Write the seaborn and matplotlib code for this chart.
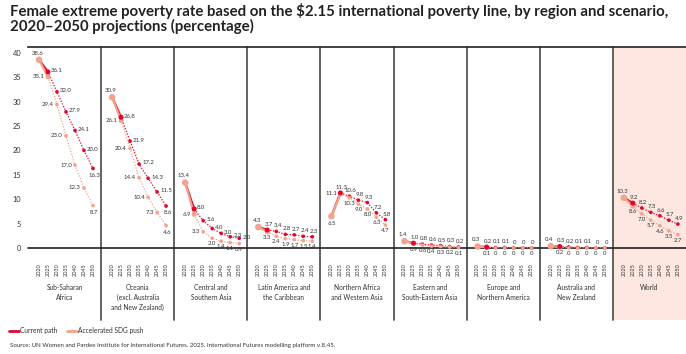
import numpy as np
import pandas as pd
import matplotlib
matplotlib.use("Agg")
import matplotlib.pyplot as plt
from matplotlib.lines import Line2D
from matplotlib.patches import Rectangle
import seaborn as sns

years = [2020, 2025, 2030, 2035, 2040, 2045, 2050]
regions = ["Sub-Saharan\nAfrica", "Oceania\n(excl. Australia\nand New Zealand)", "Central and\nSouthern Asia",
           "Latin America and\nthe Caribbean", "Northern Africa\nand Western Asia", "Eastern and\nSouth-Eastern Asia",
           "Europe and\nNorthern America", "Australia and\nNew Zealand", "World"]
current_path = [
    [38.6, 36.1, 32.0, 27.9, 24.1, 20.0, 16.3],
    [30.9, 26.8, 21.9, 17.2, 14.3, 11.5, 8.6],
    [13.4, 8.0, 5.6, 4.0, 3.0, 2.3, 2.0],
    [4.3, 3.7, 3.4, 2.8, 2.7, 2.4, 2.3],
    [6.5, 11.3, 10.6, 9.8, 9.3, 7.2, 5.8],
    [1.4, 1.0, 0.8, 0.6, 0.5, 0.3, 0.2],
    [0.3, 0.2, 0.1, 0.1, 0, 0, 0],
    [0.4, 0.3, 0.2, 0.1, 0.1, 0, 0],
    [10.3, 9.2, 8.2, 7.3, 6.6, 5.7, 4.9],
]
accelerated = [
    [38.6, 35.1, 29.4, 23.0, 17.0, 12.3, 8.7],
    [30.9, 26.1, 20.4, 14.4, 10.4, 7.3, 4.6],
    [13.4, 6.9, 3.3, 2.0, 1.4, 1.1, 0.9],
    [4.3, 3.3, 2.4, 1.9, 1.7, 1.5, 1.4],
    [6.5, 11.1, 10.3, 9.0, 8.0, 6.3, 4.7],
    [1.4, 0.9, 0.6, 0.4, 0.3, 0.2, 0.1],
    [0.3, 0.1, 0, 0, 0, 0, 0],
    [0.4, 0.2, 0, 0, 0, 0, 0],
    [10.3, 8.6, 7.0, 5.7, 4.6, 3.5, 2.7],
]
scenarios = ["Current path", "Accelerated SDG push"]
yticks = [0, 5, 10, 15, 20, 25, 30, 35, 40]

RED = "#e2062c"
SALMON = "#f4a28c"
PINK = "#fde7e0"
TXT = "#333333"
GW = 8  # group width in x units

rows = []
for g, reg in enumerate(regions):
    for sc, series in zip(scenarios, [current_path, accelerated]):
        for i, (yr, v) in enumerate(zip(years, series[g])):
            rows.append(dict(region=reg, g=g, scenario=sc, idx=i, year=yr,
                             x=g * GW + 1.2 + i * 0.985, value=v))
df = pd.DataFrame(rows)

sns.set_style("white")
plt.rcParams["font.family"] = ["Lato", "DejaVu Sans"]

fig = plt.figure(figsize=(6.86, 3.54), dpi=100)
ax = fig.add_axes([28 / 686, (354 - 248) / 354, 658 / 686, 201 / 354])
ax.set_xlim(0, GW * len(regions))
ax.set_ylim(0, 41.2)
pal = {"Current path": RED, "Accelerated SDG push": SALMON}

bot = -0.358
# World pink panel
ax.add_patch(Rectangle((GW * 8, bot), GW, 1 - bot, transform=ax.get_xaxis_transform(),
                       facecolor=PINK, edgecolor="none", zorder=0, clip_on=False))
for g in range(1, len(regions)):
    ax.plot([g * GW, g * GW], [bot, 1], transform=ax.get_xaxis_transform(), clip_on=False,
            color="#555555", lw=1.3, zorder=1)

first = df[df.idx <= 1]
after = df[df.idx >= 1]
sns.lineplot(data=after, x="x", y="value", hue="scenario", units="region", estimator=None,
             palette=pal, ax=ax, legend=False, lw=0.9, linestyle=(0, (1, 1.3)), sort=True, zorder=3)
sns.lineplot(data=first, x="x", y="value", hue="scenario", units="region", estimator=None,
             palette=pal, ax=ax, legend=False, lw=1.6, sort=True, zorder=3)
small = df[df.idx >= 2]
big25 = df[df.idx == 1]
s2020 = df[(df.idx == 0) & (df.scenario == "Accelerated SDG push")]
sns.scatterplot(data=small, x="x", y="value", hue="scenario", palette=pal, ax=ax, legend=False,
                s=7, edgecolor="none", zorder=4, clip_on=False)
sns.scatterplot(data=big25.iloc[::-1], x="x", y="value", hue="scenario", palette=pal, ax=ax, legend=False,
                s=13, edgecolor="none", zorder=5, clip_on=False)
sns.scatterplot(data=s2020, x="x", y="value", color=SALMON, ax=ax, legend=False,
                s=22, edgecolor="none", zorder=6, clip_on=False)

def fmt(v):
    return "0" if v == 0 else f"{v:.1f}"

# label placement: highest year index placed at the side (others above/below)
cur_side_max = [5, 5, 6, 0, 0, 0, 0, 0, 0]
acc_side_max = [5, 5, 2, 0, 1, 0, 0, 0, 0]
fs = 4.3
for _, r in df.iterrows():
    g, i, v = r.g, r.idx, r.value
    cur = r.scenario == "Current path"
    if i == 0:
        if not cur:
            continue
        up = current_path[g][1] <= current_path[g][0]
        off = (-1, 3) if up else (0, -3.5)
        ax.annotate(fmt(v), (r.x, v), xytext=off, textcoords="offset points", ha="center",
                    va="bottom" if up else "top", fontsize=fs, color=TXT, zorder=7, annotation_clip=False)
        continue
    smax = cur_side_max[g] if cur else acc_side_max[g]
    if i <= smax:
        off = (2.2, 0.8) if cur else (-2.2, 0)
        ha = "left" if cur else "right"
        va = "center"
    elif i == 6 and smax == 5:
        off, ha, va = (1, -3), "center", "top"
    else:
        off = (1, 2.2) if cur else (0, -2.2)
        ha = "center"
        va = "bottom" if cur else "top"
    ax.annotate(fmt(v), (r.x, v), xytext=off, textcoords="offset points", ha=ha, va=va,
                fontsize=fs, color=TXT, zorder=7, annotation_clip=False)

ax.axhline(0, color="#222222", lw=1.2, zorder=2, clip_on=False)
for s in ["left", "right", "bottom"]:
    ax.spines[s].set_visible(False)
ax.spines["top"].set_color("#222222")
ax.spines["top"].set_linewidth(1.2)

xt = df[df.scenario == "Current path"]
ax.set_xticks(xt.x.values)
ax.set_xticklabels([str(y) for y in xt.year], rotation=90, fontsize=4, color=TXT)
ax.tick_params(axis="x", length=0, pad=11)
ax.set_yticks(yticks)
ax.set_yticklabels([str(t) for t in yticks], fontsize=5.3, color=TXT)
ax.tick_params(axis="y", length=0, pad=5)
ax.set_xlabel("")
ax.set_ylabel("")
ax.patch.set_alpha(0)

for g, reg in enumerate(regions):
    ax.text(g * GW + GW / 2, -0.18, reg, transform=ax.get_xaxis_transform(), ha="center", va="top",
            fontsize=4.8, color=TXT, linespacing=1.45)

fig.text(0.014, 0.992, "Female extreme poverty rate based on the \\$2.15 international poverty line, by region and scenario,\n2020–2050 projections (percentage)",
         fontsize=10.8, fontweight="bold", color="#222222", va="top", ha="left", linespacing=1.05)

handles = [Line2D([0], [0], color=RED, lw=2), Line2D([0], [0], color=SALMON, lw=2)]
fig.legend(handles, scenarios, loc="center left", bbox_to_anchor=(0.005, (354 - 331) / 354), ncol=2,
           frameon=False, fontsize=4.8, handlelength=1.4, handletextpad=0.2, columnspacing=1.5,
           labelcolor=TXT)
fig.text(0.014, (354 - 345) / 354, "Source: UN Women and Pardee Institute for International Futures. 2025. International Futures modelling platform v.8.45.",
         fontsize=4.4, color=TXT, va="center", ha="left")

fig.savefig("out.png", dpi=100)
